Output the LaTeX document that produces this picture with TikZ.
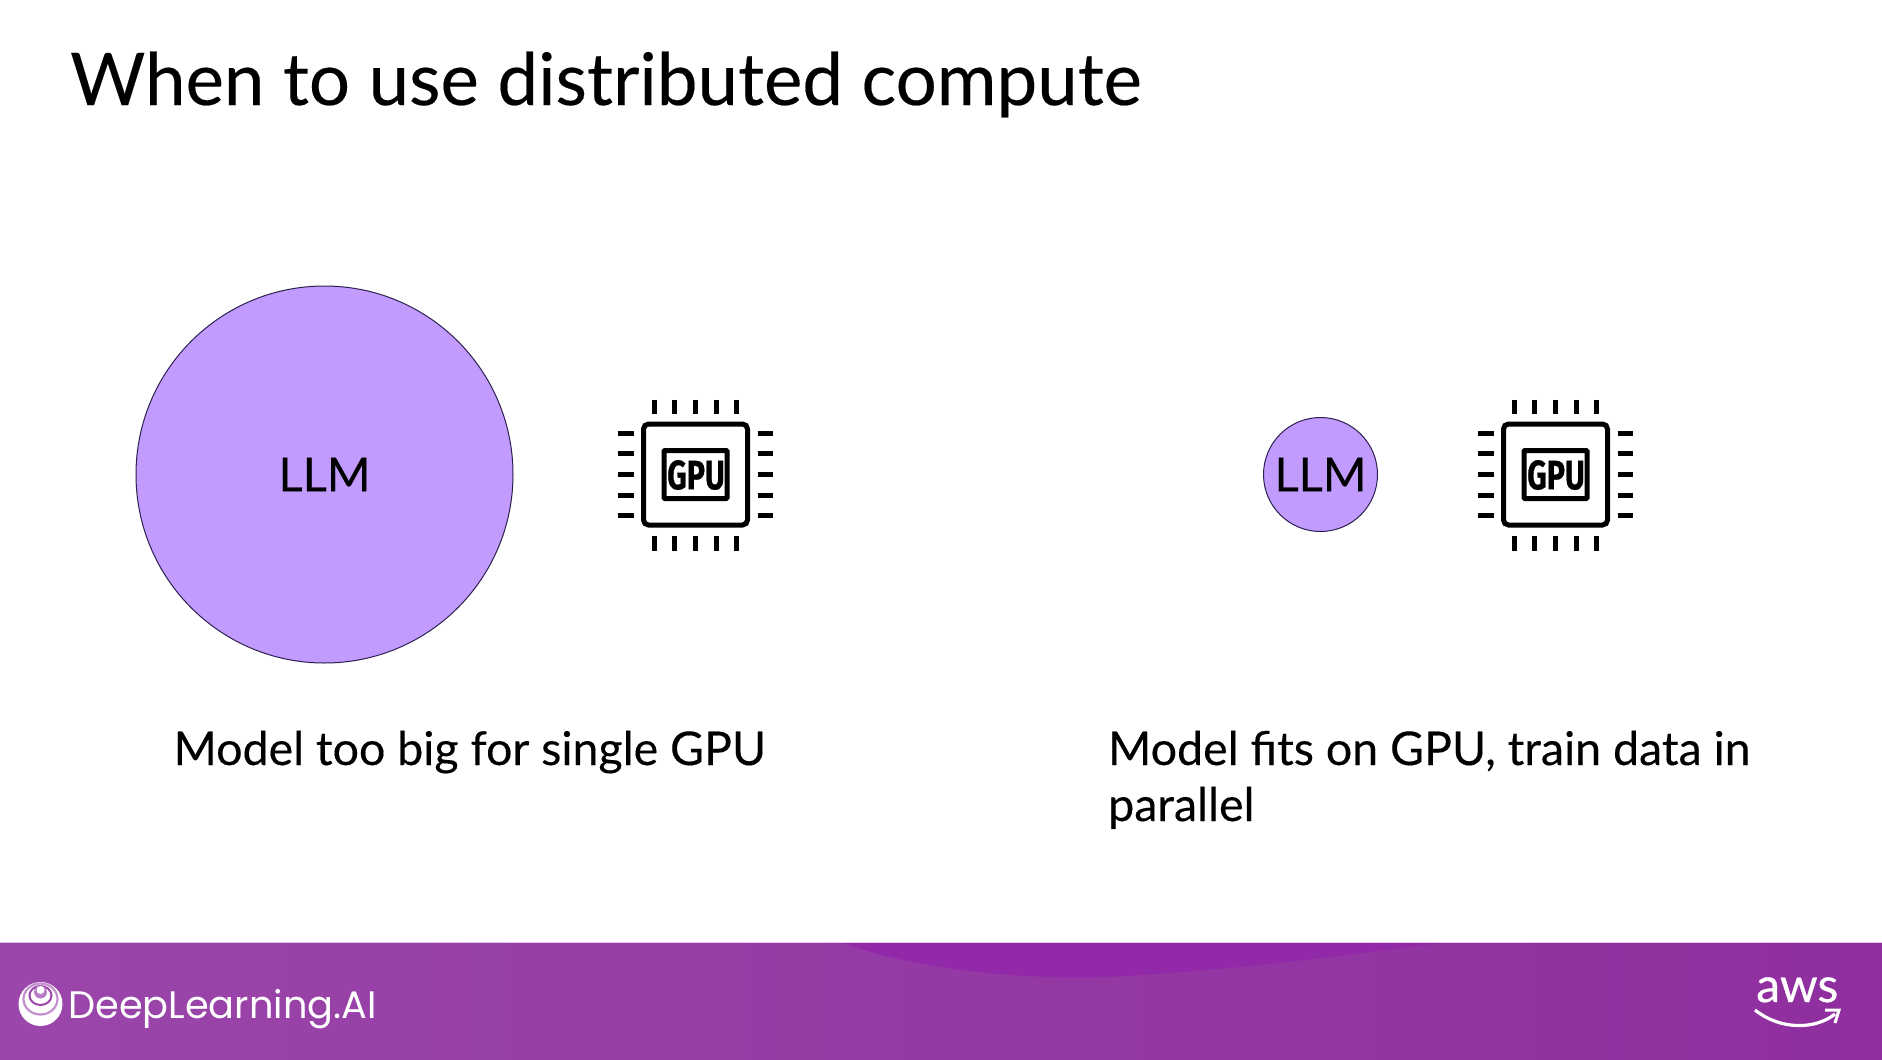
\documentclass[tikz,border=0pt]{standalone}
\usepackage{fontspec}
\setmainfont{Lato}
\newfontfamily\lightbold{Lato}[FakeBold=0.25]
\newfontfamily\awsfont{Lato}[FakeBold=0.6]
\newfontfamily\popfont{Poppins}
\newfontfamily\chipfont{Fira Sans}[UprightFont=* Bold,FakeBold=0.8]
\definecolor{llmfill}{HTML}{C29BFE}
\definecolor{llmedge}{HTML}{2E2050}
\definecolor{bandleft}{HTML}{9A46AA}
\definecolor{bandright}{HTML}{902E9F}
\definecolor{lensfill}{HTML}{9229A8}
\tikzset{
  x=1pt,y=-1pt,
  llmcircle/.style={circle,draw=llmedge,line width=1pt,fill=llmfill,inner sep=0pt,minimum size=#1,font=\lightbold\fontsize{47}{50}\selectfont},
  caption/.style={anchor=base west,inner sep=0pt,font=\lightbold\fontsize{46.5}{56}\selectfont},
  chipline/.style={line width=5.2pt,black},
  chipbody/.style={line width=5pt,black,rounded corners=5pt},
  logotext/.style={white,anchor=base west,inner sep=0pt},
  gpuchip/.pic={
    \draw[chipbody] (-52,-50.5) rectangle (52,50.5);
    \draw[line width=5pt,black,rounded corners=1pt] (-31.5,-24) rectangle (31.5,24);
    \node[inner sep=0pt,font=\chipfont\fontsize{41}{41}\selectfont,xscale=0.74] (-gpu) at (0.5,0.5) {GPU};
    \foreach \t in {-41.3,-20.7,0,20.7,41.3}{
      \draw[chipline] (\t,-75) -- (\t,-60.5);
      \draw[chipline] (\t,61) -- (\t,76.5);
      \draw[chipline] (-77.5,\t) -- (-62,\t);
      \draw[chipline] (62,\t) -- (77.5,\t);
    }
  }
}
\begin{document}
\begin{tikzpicture}
\useasboundingbox (0,0) rectangle (1882,1060);
\fill[white] (0,0) rectangle (1882,1060);
% band
\shade[left color=bandleft,right color=bandright] (0,942.5) rectangle (1882,1060);
\fill[lensfill] (843,943) .. controls (930,975) and (1060,982) .. (1140,975) .. controls (1250,968) and (1350,955) .. (1440,943) -- cycle;
\draw[white!70!bandleft,line width=1pt] (0,942.5) -- (1882,942.5);
% title
\node[anchor=base west,inner sep=0pt,font=\lightbold\fontsize{72.6}{80}\selectfont] (title) at (70,105) {When to use distributed compute};
% left
\node[llmcircle=377pt] (bigllm) at (324.5,474.5) {LLM};
\pic (chipa) at (695.5,474.5) {gpuchip};
\node[caption] (capa) at (173.5,765) {Model too big for single GPU};
% right
\node[llmcircle=114pt] (smallllm) at (1320.5,474.5) {LLM};
\pic (chipb) at (1555.5,474.5) {gpuchip};
\node[caption] (capb) at (1108,765) {Model fits on GPU, train data in};
\node[caption] (capc) at (1108,821) {parallel};
% logo
\fill[white] (40.5,1004) circle (22);
\draw[bandleft!60!white,line width=2.2pt] (40.5,999) ellipse (17 and 15.5);
\fill[white] (40.5,998) ellipse (13 and 12);
\draw[bandleft,line width=2pt] (40.5,995.5) ellipse (11 and 9.5);
\fill[bandleft!70!white] (40.5,992) circle (6.5);
\fill[white] (40.5,990) circle (4);
\node[logotext,font=\popfont\fontsize{38.3}{40}\selectfont] (dl) at (68,1018) {DeepLearning.AI};
% aws
\node[logotext,font=\awsfont\fontsize{48}{50}\selectfont] (aws) at (1756,1002) {aws};
\draw[white,line width=3.2pt] (1755,1010) .. controls (1780,1030) and (1815,1030) .. (1835,1014);
\draw[white,line width=3pt] (1825,1010) -- (1839,1010) -- (1835,1023);
\end{tikzpicture}
\end{document}
